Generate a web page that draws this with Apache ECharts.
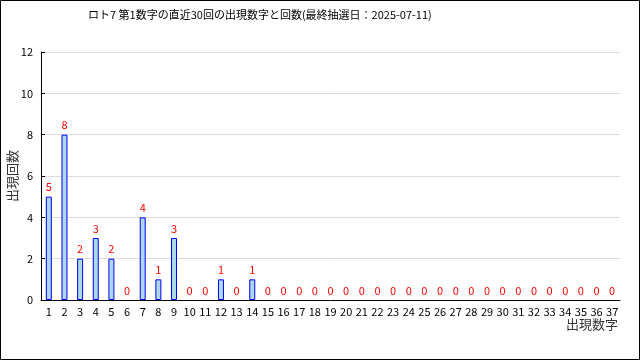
<!DOCTYPE html>
<html><head><meta charset="utf-8">
<script src="https://cdn.jsdelivr.net/npm/echarts@6/dist/echarts.min.js"></script>
<style>html,body{margin:0;padding:0;background:#fff}#c{width:640px;height:360px}</style>
</head><body><div id="c"></div>
<script>
const categories = ['1','2','3','4','5','6','7','8','9','10','11','12','13','14','15','16','17','18','19','20','21','22','23','24','25','26','27','28','29','30','31','32','33','34','35','36','37'];
const counts = [5,8,2,3,2,0,4,1,3,0,0,1,0,1,0,0,0,0,0,0,0,0,0,0,0,0,0,0,0,0,0,0,0,0,0,0,0];
const yTicks = {min:0, max:12, interval:2};
const titleText = 'ロト7 第1数字の直近30回の出現数字と回数(最終抽選日：2025-07-11)';
const font = '"Noto Sans CJK JP","DejaVu Sans",sans-serif';
const barData = counts.map(v => v === 0
  ? {value:v, itemStyle:{color:'rgba(0,0,0,0)',borderColor:'rgba(0,0,0,0)',borderWidth:0}}
  : {value:v});
const chart = echarts.init(document.getElementById('c'));
chart.setOption({
  animation:false,
  backgroundColor:'#fff',
  title:{text:titleText,left:83,top:4,textStyle:{fontSize:11,fontWeight:'normal',color:'#000',fontFamily:font}},
  grid:{left:41,right:20,top:52,bottom:60,containLabel:false,outerBoundsMode:'none'},
  graphic:[{type:'rect',shape:{x:0.5,y:0.5,width:639,height:359},style:{fill:'none',stroke:'#000',lineWidth:1},silent:true}],
  xAxis:{type:'category',data:categories,
    name:'出現数字',nameLocation:'end',nameGap:-2,nameMoveOverlap:false,
    nameTextStyle:{align:'right',verticalAlign:'top',padding:[18,0,0,0],fontSize:13,color:'#333',fontFamily:'"Noto Sans CJK JP"'},
    axisLine:{lineStyle:{color:'#000',width:1}},
    axisTick:{inside:true,length:4,lineStyle:{color:'#000'}},
    axisLabel:{color:'#000',fontSize:11,margin:6,interval:0,fontFamily:font}},
  yAxis:{type:'value',min:yTicks.min,max:yTicks.max,interval:yTicks.interval,
    name:'出現回数',nameLocation:'middle',nameGap:22,nameRotate:90,nameMoveOverlap:false,
    nameTextStyle:{fontSize:13,color:'#333',fontFamily:'"Noto Sans CJK JP"'},
    axisLine:{show:true,lineStyle:{color:'#000'}},
    axisTick:{show:true,inside:true,length:4,lineStyle:{color:'#000'}},
    axisLabel:{color:'#000',fontSize:11,margin:8,fontFamily:font},
    splitLine:{lineStyle:{color:'#dcdcdc'}}},
  series:[{type:'bar',data:barData,barWidth:6,
    itemStyle:{color:'#add8e6',borderColor:'#0000ff',borderWidth:1},
    label:{show:true,position:'top',distance:4,color:'#ff0000',fontSize:11,fontFamily:font}}]
});
</script></body></html>
